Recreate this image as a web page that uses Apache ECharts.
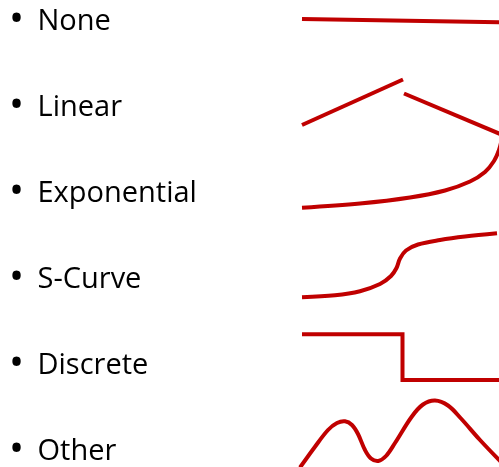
<!DOCTYPE html>
<html>
<head>
<meta charset="utf-8">
<script src="https://cdn.jsdelivr.net/npm/echarts@6/dist/echarts.min.js"></script>
<style>
html,body{margin:0;padding:0;background:#fff;}
#c{width:499px;height:467px;}
</style>
</head>
<body>
<div id="c"></div>
<script>
// Category labels (bullet list)
const labels = ['None', 'Linear', 'Exponential', 'S-Curve', 'Discrete', 'Other'];

// Shape data (x, y in the chart's own value space)
const noneX = [302, 505];
const noneY = [19, 22.4];

const linearAX = [302, 403];
const linearAY = [125, 79.5];
const linearBX = [404, 505];
const linearBY = [93.5, 136];

const expX = [302, 360, 410, 445, 470, 485, 494, 499, 502];
const expY = [207.7, 203.5, 197.5, 190.5, 181.5, 172, 161, 150, 138];

const sX = [302, 335, 360, 380, 391, 396.5, 400, 406, 418, 440, 465, 497];
const sY = [297.3, 295.3, 291.2, 284, 276, 268, 258.5, 250.5, 244.5, 240, 236.5, 233.3];

const discX = [302, 402.5, 402.5, 505];
const discY = [334.3, 334.3, 380, 380];

const otherX = [300, 315, 328, 337, 345, 352, 358, 365, 371, 378.3, 386, 395, 411.7, 423, 435, 448, 461, 480, 501];
const otherY = [467.5, 446.7, 430, 423, 421.3, 425, 434, 450, 458.5, 461, 456, 443, 416.7, 404.5, 400.5, 405.5, 418.5, 440, 462];

const RED = '#C00000';
const LW = 4;

function pts(xs, ys) { return xs.map((x, i) => [x, ys[i]]); }

function lineSeries(xs, ys) {
  return {
    type: 'line',
    data: pts(xs, ys),
    symbol: 'none',
    silent: true,
    animation: false,
    lineStyle: { color: RED, width: LW, join: 'miter', cap: 'butt' }
  };
}

function curveSeries(xs, ys) {
  const data = pts(xs, ys);
  return {
    type: 'custom',
    coordinateSystem: 'cartesian2d',
    data: data,
    silent: true,
    animation: false,
    renderItem: function (params, api) {
      if (params.dataIndex !== 0) return null;
      return {
        type: 'polyline',
        shape: { points: data.map(p => api.coord(p)), smooth: 0.35 },
        style: { stroke: RED, lineWidth: LW, fill: null, lineCap: 'butt', lineJoin: 'round' }
      };
    }
  };
}

const chart = echarts.init(document.getElementById('c'), null, { renderer: 'canvas' });

const rowBase = 30, rowStep = 85.9;
const graphics = [];
labels.forEach((t, i) => {
  const base = rowBase + i * rowStep;
  graphics.push({
    type: 'text', x: 16.5, y: base - 9,
    style: { text: '•', fill: '#000', font: '40px "Open Sans"', align: 'center', verticalAlign: 'middle' }
  });
  graphics.push({
    type: 'text', x: 37.5, y: base - 8,
    style: { text: t, fill: '#000', font: '29px "Open Sans"', align: 'left', verticalAlign: 'middle' }
  });
});

chart.setOption({
  animation: false,
  backgroundColor: '#fff',
  grid: { left: 0, right: 0, top: 0, bottom: 0 },
  xAxis: { type: 'value', min: 0, max: 499, show: false },
  yAxis: { type: 'value', min: 0, max: 467, inverse: true, show: false },
  graphic: graphics,
  series: [
    lineSeries(noneX, noneY),
    lineSeries(linearAX, linearAY),
    lineSeries(linearBX, linearBY),
    curveSeries(expX, expY),
    curveSeries(sX, sY),
    lineSeries(discX, discY),
    curveSeries(otherX, otherY)
  ]
});
</script>
</body>
</html>
